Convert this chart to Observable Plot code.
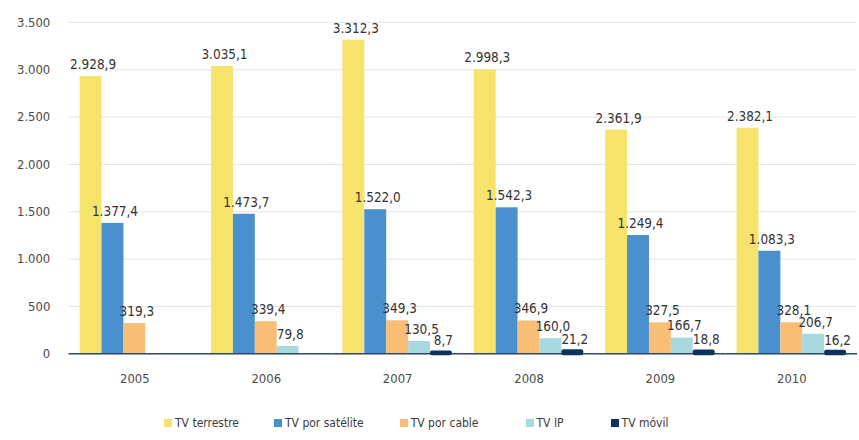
<!DOCTYPE html>
<html lang="es">
<head>
<meta charset="utf-8">
<script src="https://cdn.jsdelivr.net/npm/d3@7"></script>
<script src="https://cdn.jsdelivr.net/npm/@observablehq/plot@0.6"></script>
<style>
  html, body { margin: 0; padding: 0; background: #fff; overflow: hidden; }
  #wrap { width: 859px; height: 440px; overflow: hidden; position: relative;
          font-family: "DejaVu Sans", sans-serif; font-stretch: condensed; }
  #chart svg, #chart svg text { font-stretch: condensed; }
  #legend { display: flex; align-items: center; margin-left: 164px; margin-top: 22px;
            font-size: 12px; color: #3c3c3c; line-height: 16px; }
  #legend .item { display: flex; align-items: center; }
  #legend .sw { width: 8px; height: 8px; margin-right: 3px; }
</style>
</head>
<body>
<div id="wrap"><div id="chart"></div><div id="legend"></div></div>
<script>
// Años y series
const years = ["2005", "2006", "2007", "2008", "2009", "2010"];
const series = ["TV terrestre", "TV por satélite", "TV por cable", "TV IP", "TV móvil"];
const colors = ["#f6e36c", "#4a90cf", "#f8be76", "#a8d9de", "#0d335c"];

// Valores por serie (null = sin dato)
const terrestre = [2928.9, 3035.1, 3312.3, 2998.3, 2361.9, 2382.1];
const satelite  = [1377.4, 1473.7, 1522.0, 1542.3, 1249.4, 1083.3];
const cable     = [319.3, 339.4, 349.3, 346.9, 327.5, 328.1];
const tvip      = [null, 79.8, 130.5, 160.0, 166.7, 206.7];
const movil     = [null, null, 8.7, 21.2, 18.8, 16.2];

const yTicks = [0, 500, 1000, 1500, 2000, 2500, 3000, 3500];

const es = d3.formatLocale({decimal: ",", thousands: ".", grouping: [3], currency: ["", " €"]});
const fmtInt = es.format(",.0f");
const fmtVal = es.format(",.1f");

const columns = [terrestre, satelite, cable, tvip, movil];
const rows = [];
series.forEach((s, i) => {
  columns[i].forEach((v, j) => {
    if (v != null) rows.push({year: years[j], series: s, value: v});
  });
});
const mainRows = rows.filter(d => d.series !== "TV móvil");
const mobileRows = rows.filter(d => d.series === "TV móvil");

const navy = colors[4];

const chart = Plot.plot({
  width: 863,
  height: 395,
  marginLeft: 66,
  marginRight: 0,
  marginTop: 22,
  marginBottom: 40,
  style: {
    fontFamily: "'DejaVu Sans', sans-serif",
    background: "#fff",
    color: "#3c3c3c"
  },
  fx: {domain: years, padding: 0, label: null},
  x: {domain: series, paddingInner: 0, paddingOuter: 0.46, axis: null},
  y: {domain: [0, 3500], label: null},
  color: {domain: series, range: colors},
  marks: [
    Plot.gridY(yTicks, {stroke: "#e4e4e4", strokeOpacity: 1, strokeWidth: 1}),
    Plot.axisY(yTicks, {tickFormat: fmtInt, tickSize: 0, tickPadding: 19, fontSize: 13, fill: "#4a4a4a", label: null}),
    Plot.axisFx({anchor: "bottom", tickSize: 0, tickPadding: 20, fontSize: 13, fill: "#4a4a4a", label: null}),
    Plot.barY(mainRows, {fx: "year", x: "series", y: "value", fill: "series"}),
    Plot.ruleY([0], {stroke: "#2d4a6c", strokeWidth: 1.5}),
    Plot.barY(mobileRows, {fx: "year", x: "series", y: "value", fill: navy, stroke: navy,
      strokeWidth: 4, strokeLinejoin: "round", insetLeft: 2, insetRight: 2}),
    Plot.text(rows, {fx: "year", x: "series", y: "value", text: d => fmtVal(d.value),
      dy: -12, dx: 2, fontSize: 13.5, fill: "#333"})
  ]
});
document.getElementById("chart").appendChild(chart);

// Leyenda: muestra de color + nombre de la serie
const legendGaps = [35, 36, 47, 47, 0];
const legend = document.getElementById("legend");
series.forEach((s, i) => {
  const item = document.createElement("div");
  item.className = "item";
  item.style.marginRight = legendGaps[i] + "px";
  const sw = document.createElement("span");
  sw.className = "sw";
  sw.style.background = colors[i];
  const label = document.createElement("span");
  label.textContent = s;
  item.appendChild(sw);
  item.appendChild(label);
  legend.appendChild(item);
});
</script>
</body>
</html>
